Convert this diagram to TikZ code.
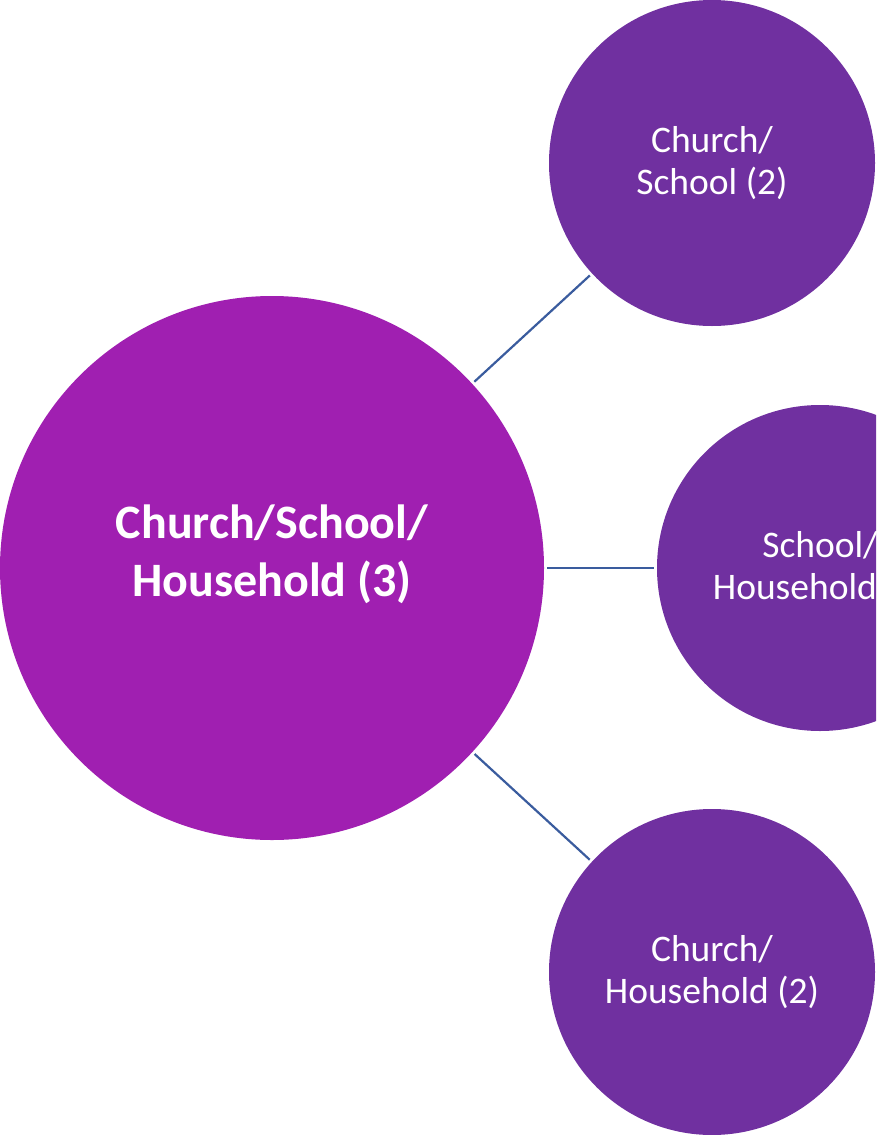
\documentclass[tikz,border=0pt]{standalone}
\usepackage{fontspec}
\setmainfont{Carlito}
\usepackage{tikz}
\usetikzlibrary{shapes}
\definecolor{bigpurple}{HTML}{A01FB1}
\definecolor{smallpurple}{HTML}{7030A0}
\definecolor{linkblue}{HTML}{3A5C9E}

\begin{document}
\begin{tikzpicture}[
			x=1pt, y=-1pt,
			every node/.style={circle, inner sep=0pt, outer sep=3pt, text=white, align=center},
			bigcirc/.style={fill=bigpurple, minimum size=544pt, text depth=34pt, font=\fontsize{48}{58}\selectfont\bfseries},
			smallcirc/.style={fill=smallpurple, minimum size=326pt, font=\fontsize{37.5}{42}\selectfont},
			link/.style={draw=linkblue, line width=2.2pt},
			]
			\useasboundingbox (0,0) rectangle (876,1135);
			\clip (0,0) rectangle (876,1135);
			\node [bigcirc] (all) at (272,568) {Church/School/\\ Household (3)};
			\node [smallcirc] (cs) at (712,163) {Church/\\ School (2)};
			\node [smallcirc] (sh) at (820,568) {School/\\ Household (2)};
			\node [smallcirc] (ch) at (712,972) {Church/\\ Household (2)};
			\path [link] (all) -- (cs);
			\path [link] (all) -- (sh);
			\path [link] (all) -- (ch);
		\end{tikzpicture}
\end{document}
